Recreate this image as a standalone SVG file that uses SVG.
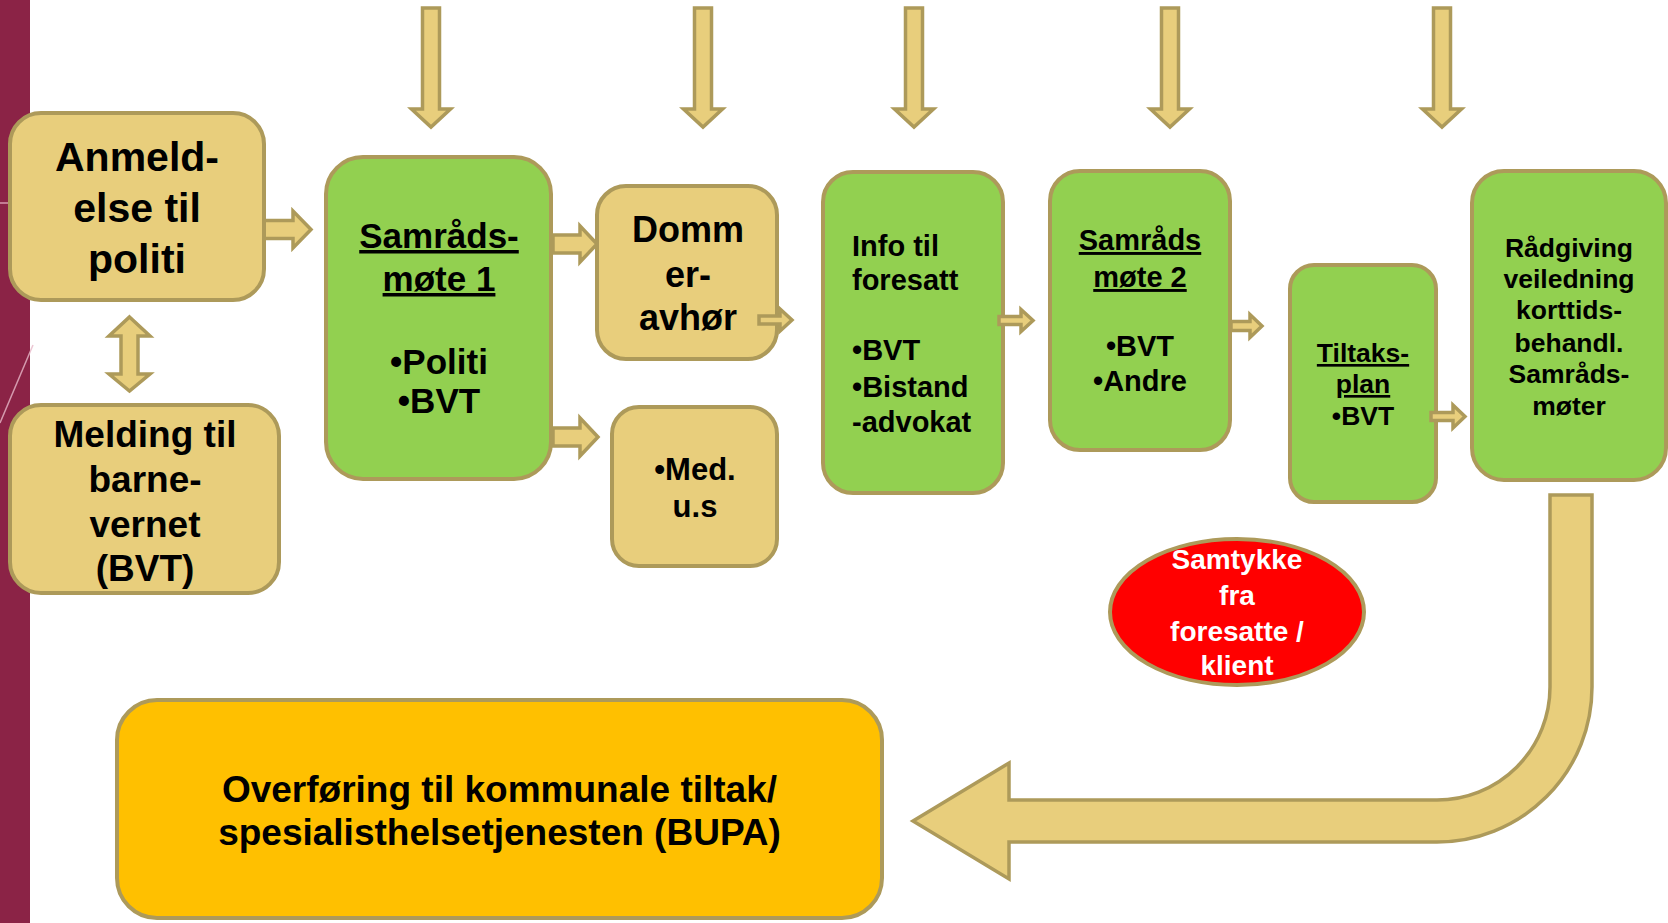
<svg xmlns="http://www.w3.org/2000/svg" width="1668" height="923" viewBox="0 0 1668 923">
<style>
.tan{fill:#E8CE7C;stroke:#AD9A5A;stroke-width:4}
.grn{fill:#92D050;stroke:#AD9A5A;stroke-width:4}
.org{fill:#FFC000;stroke:#AD9A5A;stroke-width:4}
.red{fill:#FF0000;stroke:#AD9A5A;stroke-width:4}
.arw{fill:#E8CE7C;stroke:#AD9A5A;stroke-width:3.5;stroke-linejoin:miter}
.arws{fill:#E8CE7C;stroke:#AD9A5A;stroke-width:3.5;stroke-linejoin:miter}
text{font-family:"Liberation Sans",Arial,sans-serif;font-weight:bold;fill:#000}
.c{text-anchor:middle}
.u{text-decoration:underline}
.w{fill:#fff}
</style>
<defs>
<path id="down" d="M-8.5,8 H8.5 V109 H19.5 L0,127 L-19.5,109 H-8.5 Z"/>
</defs>
<rect width="1668" height="923" fill="#fff"/>
<g id="sidebar">
<rect x="0" y="0" width="30" height="923" fill="#8B2346"/>
<line x1="0" y1="203" x2="8" y2="203" stroke="#E8B8C8" stroke-width="1.5" opacity="0.8"/>
<line x1="0" y1="423" x2="33" y2="345" stroke="#E8B8C8" stroke-width="1.5" opacity="0.8"/>
</g>

<g id="connectors">
<use href="#down" class="arw" transform="translate(431,0)"/>
<use href="#down" class="arw" transform="translate(703,0)"/>
<use href="#down" class="arw" transform="translate(914,0)"/>
<use href="#down" class="arw" transform="translate(1170,0)"/>
<use href="#down" class="arw" transform="translate(1442,0)"/>
<path class="arw" d="M264,220.5 H293 V211 L311,229.5 L293,248 V238.5 H264 Z"/>
<path class="arw" d="M129.5,317 L150,336 H138 V374 H150 L129.5,391 L109,374 H121 V336 H109 Z"/>
<path class="arw" d="M553,235 H580 V226 L597,244 L580,262 V253 H553 Z"/>
<path class="arw" d="M553,428 H580 V418 L598,437 L580,456 V446 H553 Z"/>
<path class="arw" d="M1550,495 H1592 V687 A155,155 0 0 1 1437,842 H1009 V879 L913,821 L1009,763 V800 H1437 A113,113 0 0 0 1550,687 Z"/>
</g>

<g id="n-anmeld">
<rect class="tan" x="10" y="113" width="254" height="187" rx="31"/>
<text class="c" x="137" y="171" font-size="41">Anmeld-</text>
<text class="c" x="137" y="222" font-size="41">else til</text>
<text class="c" x="137" y="273" font-size="41">politi</text>
</g>

<g id="n-melding">
<rect class="tan" x="10" y="405" width="269" height="188" rx="31"/>
<text class="c" x="145" y="447" font-size="37">Melding til</text>
<text class="c" x="145" y="492" font-size="37">barne-</text>
<text class="c" x="145" y="537" font-size="37">vernet</text>
<text class="c" x="145" y="581" font-size="37">(BVT)</text>
</g>

<g id="n-samrad1">
<rect class="grn" x="326" y="157" width="225" height="322" rx="37"/>
<text class="c u" x="439" y="248" font-size="35">Samråds-</text>
<text class="c u" x="439" y="291" font-size="35">møte 1</text>
<text class="c" x="439" y="374" font-size="35">•Politi</text>
<text class="c" x="439" y="413" font-size="35">•BVT</text>
</g>

<g id="n-dommer">
<rect class="tan" x="597" y="186" width="180" height="173" rx="29"/>
<text class="c" x="688" y="242" font-size="36">Domm</text>
<text class="c" x="688" y="287" font-size="36">er-</text>
<text class="c" x="688" y="330" font-size="36">avhør</text>
</g>

<g id="n-med">
<rect class="tan" x="612" y="407" width="165" height="159" rx="27"/>
<text class="c" x="695" y="480" font-size="31">•Med.</text>
<text class="c" x="695" y="517" font-size="31">u.s</text>
</g>

<g id="n-info">
<rect class="grn" x="823" y="172" width="180" height="321" rx="30"/>
<text x="852" y="256" font-size="29">Info til</text>
<text x="852" y="290" font-size="29">foresatt</text>
<text x="852" y="360" font-size="29">•BVT</text>
<text x="852" y="397" font-size="29">•Bistand</text>
<text x="852" y="432" font-size="29">-advokat</text>
</g>

<g id="n-samrad2">
<rect class="grn" x="1050" y="171" width="180" height="279" rx="30"/>
<text class="c u" x="1140" y="250" font-size="29">Samråds</text>
<text class="c u" x="1140" y="287" font-size="29">møte 2</text>
<text class="c" x="1140" y="356" font-size="29">•BVT</text>
<text class="c" x="1140" y="391" font-size="29">•Andre</text>
</g>

<g id="n-tiltak">
<rect class="grn" x="1290" y="265" width="146" height="237" rx="24"/>
<text class="c u" x="1363" y="362" font-size="26.5">Tiltaks-</text>
<text class="c u" x="1363" y="393" font-size="26.5">plan</text>
<text class="c" x="1363" y="425" font-size="26.5">•BVT</text>
</g>

<g id="n-radgiving">
<rect class="grn" x="1472" y="171" width="194" height="309" rx="32"/>
<text class="c" x="1569" y="257" font-size="26.5">Rådgiving</text>
<text class="c" x="1569" y="288" font-size="26.5">veiledning</text>
<text class="c" x="1569" y="319" font-size="26.5">korttids-</text>
<text class="c" x="1569" y="352" font-size="26.5">behandl.</text>
<text class="c" x="1569" y="383" font-size="26.5">Samråds-</text>
<text class="c" x="1569" y="415" font-size="26.5">møter</text>
</g>

<g id="small-arrows">
<path class="arws" d="M759,316 H780 V309 L792,320 L780,331 V324 H759 Z"/>
<path class="arws" d="M999,316.5 H1021 V309.5 L1033,320.5 L1021,331.5 V324.5 H999 Z"/>
<path class="arws" d="M1231,321.5 H1250 V314.5 L1262,326 L1250,337.5 V330.5 H1231 Z"/>
<path class="arws" d="M1431,412.5 H1453 V405 L1465,416.5 L1453,428 V420.5 H1431 Z"/>
</g>

<g id="n-samtykke">
<ellipse class="red" cx="1237" cy="612" rx="127" ry="73"/>
<text class="c w" x="1237" y="569" font-size="28">Samtykke</text>
<text class="c w" x="1237" y="605" font-size="28">fra</text>
<text class="c w" x="1237" y="641" font-size="28">foresatte /</text>
<text class="c w" x="1237" y="675" font-size="28">klient</text>
</g>

<g id="n-overforing">
<rect class="org" x="117" y="700" width="765" height="218" rx="40"/>
<text class="c" x="499.5" y="802" font-size="37">Overføring til kommunale tiltak/</text>
<text class="c" x="499.5" y="845" font-size="37">spesialisthelsetjenesten (BUPA)</text>
</g>
</svg>
